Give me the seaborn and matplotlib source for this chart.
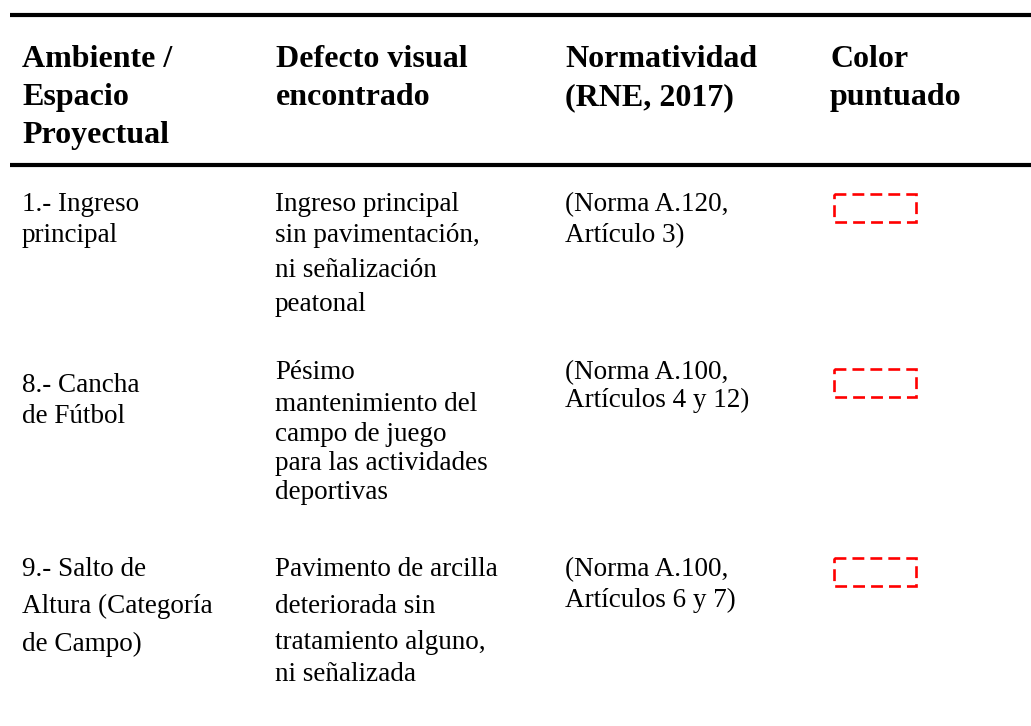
import matplotlib
matplotlib.use("Agg")
import matplotlib.pyplot as plt
import seaborn as sns
from matplotlib.patches import Rectangle

# table content
headers = [["Ambiente /", "Espacio", "Proyectual"],
           ["Defecto visual", "encontrado"],
           ["Normatividad", "(RNE, 2017)"],
           ["Color", "puntuado"]]

ambientes = [["1.- Ingreso", "principal"],
             ["8.- Cancha", "de Fútbol"],
             ["9.- Salto de", "Altura (Categoría", "de Campo)"]]

defectos = [["Ingreso principal", "sin pavimentación,", "ni señalización", "peatonal"],
            ["Pésimo", "mantenimiento del", "campo de juego", "para las actividades", "deportivas"],
            ["Pavimento de arcilla", "deteriorada sin", "tratamiento alguno,", "ni señalizada"]]

normas = [["(Norma A.120,", "Artículo 3)"],
          ["(Norma A.100,", "Artículos 4 y 12)"],
          ["(Norma A.100,", "Artículos 6 y 7)"]]

punteado_color = ["#ff0000", "#ff0000", "#ff0000"]

# layout (pixels, y going down)
W, H = 1031, 726
head_x = [22, 276, 565, 830]
body_x = [22, 275, 565, 834]
head_y = [67, 105, 143]
rule_y = [15, 165]
amb_y = [[211, 242], [392, 423], [576, 613, 651]]
def_y = [[211, 242, 277, 311], [379, 411, 441, 470, 499], [576, 613, 649, 681]]
norm_y = [[211, 242], [379, 407], [576, 607]]
box_top = [194, 369, 558]
box_w, box_h = 82, 28

sns.set_theme(style="white")
plt.rcParams['font.family'] = ['Liberation Serif', 'DejaVu Serif']

fig = plt.figure(figsize=(W / 100, H / 100), dpi=100)
ax = fig.add_axes([0, 0, 1, 1])
ax.set_xlim(0, W)
ax.set_ylim(H, 0)
ax.axis("off")

# horizontal rules
ax.hlines(rule_y, 10, W, color="black", linewidth=3)

# header
for x, lines in zip(head_x, headers):
    for y, line in zip(head_y, lines):
        ax.text(x, y, line, fontsize=23, fontweight="bold", va="baseline", ha="left", color="black")

# body rows
for i in range(len(ambientes)):
    for y, line in zip(amb_y[i], ambientes[i]):
        ax.text(body_x[0], y, line, fontsize=19.5, va="baseline", ha="left", color="black")
    for y, line in zip(def_y[i], defectos[i]):
        ax.text(body_x[1], y, line, fontsize=19.5, va="baseline", ha="left", color="black")
    for y, line in zip(norm_y[i], normas[i]):
        ax.text(body_x[2], y, line, fontsize=19.5, va="baseline", ha="left", color="black")
    ax.add_patch(Rectangle((body_x[3], box_top[i]), box_w, box_h, fill=False,
                           edgecolor=punteado_color[i], linewidth=1.9,
                           linestyle=(0, (4.5, 2.3))))

fig.savefig("out.png", dpi=100)
